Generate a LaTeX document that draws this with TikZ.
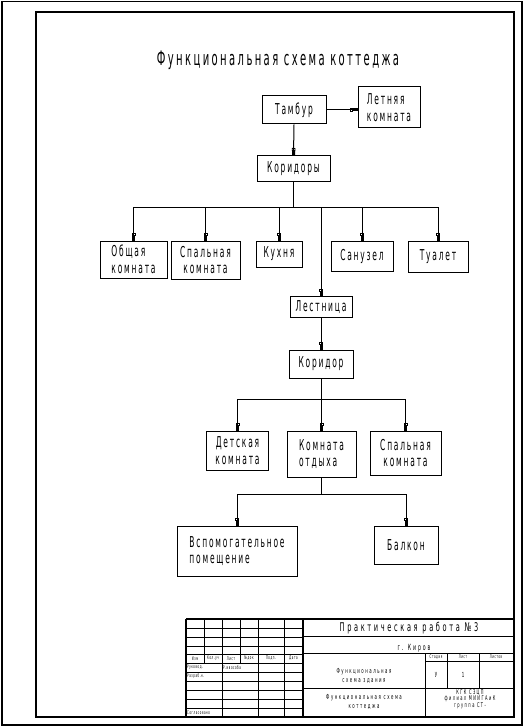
\documentclass[tikz,border=0pt]{standalone}
\usepackage{fontspec}
\usetikzlibrary{arrows.meta}
\newfontfamily\gost[FakeStretch=0.5,LetterSpace=12]{DejaVu Sans}
\newfontfamily\gostw[FakeStretch=0.55,LetterSpace=22]{DejaVu Sans}
\begin{document}
\begin{tikzpicture}[x=1pt,y=-1pt,
  box/.style={draw,line width=1pt,inner sep=0pt,font=\gost\fontsize{15}{16.5}\selectfont,align=center},
  boxl/.style={box,align=left},
  conn/.style={line width=1pt},
  tip/.style={conn,-{Rectangle[open,length=3pt,width=3.6pt,line width=0.8pt]Rectangle[length=4.5pt,width=3pt]}},
  frame/.style={line width=1.3pt},
  thin/.style={line width=0.5pt},
  tb/.style={font=\gost\fontsize{5}{5}\selectfont,inner sep=0pt},
]
\useasboundingbox (0,0) rectangle (525,727);
% frames
\draw[frame] (2,1.5) rectangle (522,725);
\draw[frame] (36,12) rectangle (514,717);
% title
\node[font=\gost\fontsize{20}{22}\selectfont] (title) at (278,60) {Функциональная схема коттеджа};
% boxes
\node[box,minimum width=64pt,minimum height=28pt] (tamb) at (294,110) {Тамбур};
\node[boxl,minimum width=62pt,minimum height=41pt] (letn) at (389,107.5) {Летняя\\комната};
\node[box,minimum width=73pt,minimum height=26pt] (kors) at (293.5,169) {Коридоры};
\node[boxl,minimum width=67pt,minimum height=37pt] (obsh) at (133.5,259.5) {Общая\\комната};
\node[box,minimum width=69pt,minimum height=38pt] (spal) at (205.5,260) {Спальная\\комната};
\node[box,minimum width=46pt,minimum height=26pt] (kuh) at (279,254) {Кухня};
\node[box,minimum width=62pt,minimum height=30pt] (sanu) at (362,256) {Санузел};
\node[box,minimum width=60pt,minimum height=31pt] (tual) at (438,256.5) {Туалет};
\node[box,minimum width=62pt,minimum height=21pt] (lest) at (321,307) {Лестница};
\node[box,minimum width=64pt,minimum height=28pt] (kor) at (321,364) {Коридор};
\node[box,minimum width=62pt,minimum height=39pt] (det) at (237.5,450.5) {Детская\\комната};
\node[boxl,minimum width=69pt,minimum height=46pt] (otd) at (321.5,454) {Комната\\отдыха};
\node[box,minimum width=71pt,minimum height=44pt] (spal2) at (405.5,453) {Спальная\\комната};
\node[boxl,minimum width=120pt,minimum height=50pt] (vsp) at (237,551) {Вспомогательное\\помещение};
\node[box,minimum width=64pt,minimum height=38pt] (balk) at (406,545) {Балкон};
% bus points
\coordinate (b1) at (293.5,208);
\coordinate (b2) at (321,399);
\coordinate (b3) at (321.5,494);
% connectors
\draw[tip] (tamb.east) -- (tamb.east -| letn.west);
\draw[tip] (tamb.south) -- (kors.north);
\draw[conn] (kors.south) -- (b1);
\draw[tip] (b1) -| (obsh.north);
\draw[tip] (b1) -| (spal.north);
\draw[tip] (b1) -| (kuh.north);
\draw[tip] (b1) -| (sanu.north);
\draw[tip] (b1) -| (tual.north);
\draw[tip] (b1) -| (lest.north);
\draw[tip] (lest.south) -- (kor.north);
\draw[conn] (kor.south) -- (b2);
\draw[tip] (b2) -| (det.north);
\draw[tip] (b2) -| (otd.north);
\draw[tip] (b2) -| (spal2.north);
\draw[conn] (otd.south) -- (b3);
\draw[tip] (b3) -| (vsp.north);
\draw[tip] (b3) -| (balk.north);
% title block
\draw[frame] (186,619) -- (514,619);
\draw[frame] (186,619) -- (186,717);
\draw[frame] (303,619) -- (303,717);
\foreach \x in {204,222,240,258,284} \draw[thin] (\x,619) -- (\x,663);
\foreach \x in {222,258,284} \draw[thin] (\x,663) -- (\x,717);
\foreach \y in {628,637,646,654,672,681,690,699,708} \draw[thin] (186,\y) -- (303,\y);
\draw[line width=0.9pt] (186,663) -- (303,663);
\draw[thin] (303,636) -- (514,636);
\draw[thin] (303,653) -- (514,653);
\draw[thin] (303,688) -- (514,688);
\draw[thin] (425,653) -- (425,717);
\draw[thin] (447,653) -- (447,688);
\draw[thin] (479,653) -- (479,688);
\draw[thin] (425,661) -- (514,661);
\node[tb] at (195,658.5) {Изм};
\node[tb] at (213,658.5) {Кол.уч};
\node[tb] at (231,658.5) {Лист};
\node[tb] at (249,658.5) {№док};
\node[tb] at (271,658.5) {Подп.};
\node[tb] at (293.5,658.5) {Дата};
\node[tb,anchor=west] at (187,667.5) {Руковод.};
\node[tb,anchor=west] at (223,667.5) {Р.ивособа};
\node[tb,anchor=west] at (187,676.5) {Разраб.н.};
\node[tb,anchor=west] at (187,712.5) {Согласовано};
\node[font=\gostw\fontsize{12}{12}\selectfont] at (409,628) {Практическая работа №3};
\node[font=\gostw\fontsize{8.5}{9}\selectfont] at (414,648) {г. Киров};
\node[tb,align=center,font=\gostw\fontsize{7}{9}\selectfont] at (364,676) {Функциональная\\схема здания};
\node[tb] at (436,657) {Стадия};
\node[tb] at (463,657) {Лист};
\node[tb] at (496,657) {Листов};
\node[tb,font=\gostw\fontsize{7}{7}\selectfont] at (436,674.5) {У};
\node[tb,font=\gostw\fontsize{7}{7}\selectfont] at (463,674.5) {1};
\node[tb,align=center,font=\gostw\fontsize{7}{9}\selectfont] at (364,702) {Функциональная схема\\коттеджа};
\node[tb,align=center,font=\gostw\fontsize{6.5}{6.5}\selectfont] at (470,699) {КГК СЗЦП\\филиал МИИГАиК\\группа СТ-};
\end{tikzpicture}
\end{document}
